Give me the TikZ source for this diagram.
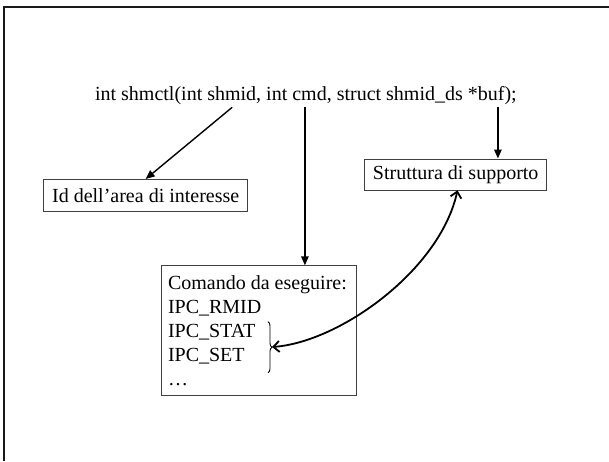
\documentclass[tikz,border=0pt]{standalone}
\usepackage{fontspec}
\setmainfont{Liberation Serif}
\usetikzlibrary{arrows.meta,decorations.pathreplacing}
\begin{document}
\begin{tikzpicture}[x=1pt,y=-1pt,
  every node/.style={font=\fontsize{20}{24}\selectfont, text=black},
  box/.style={draw=black!75, line width=0.9pt, inner sep=0pt, minimum height=31.5pt},
  ptr/.style={line width=1.4pt, -{Triangle[length=9pt,width=7.5pt]}},
  link/.style={line width=1.8pt, {Straight Barb[length=6pt,width=11pt]}-{Straight Barb[length=6pt,width=11pt]}}
]
\useasboundingbox (0,0) rectangle (609,461);
% slide frame
\draw[line width=2pt, black!90] (4,461) -- (4,7) -- (609,7);

% prototype
\node[anchor=base] (sig) at (305.9,100) {int shmctl(int shmid, int cmd, struct shmid\_ds *buf);};
\coordinate (a1) at (232.2,107.3);
\coordinate (a2) at (304.9,107.3);
\coordinate (a3) at (497.9,107.3);

% boxes
\node[box, minimum width=204.3pt] (id) at (145.7,195.2) {Id dell’area di interesse};
\node[box, minimum width=182pt] (str) at (455.7,174.7) {Struttura di supporto};
\node[box, minimum width=195pt, minimum height=129.3pt] (cmd) at (259,330.4) {};
\node[anchor=west, align=left, inner sep=0pt] (cmdtext) at (167.8,330.4)
  {Comando da eseguire:\\IPC\_RMID\\IPC\_STAT\\IPC\_SET\\…};

% brace over IPC_STAT / IPC_SET
\draw[line width=0.9pt, decorate, decoration={brace, amplitude=4pt}]
  (268,321.7) -- (268,372.7);
\coordinate (bt) at (272,347);
\coordinate (sb) at (457.5,190.3);

% arrows
\draw[ptr] (a1) -- (id.north);
\draw[ptr] (a2) -- (a2 |- cmd.north);
\draw[ptr] (a3) -- (a3 |- str.north);
\draw[link] (sb) .. controls (440,270) and (340,342) .. (bt);
\end{tikzpicture}
\end{document}
